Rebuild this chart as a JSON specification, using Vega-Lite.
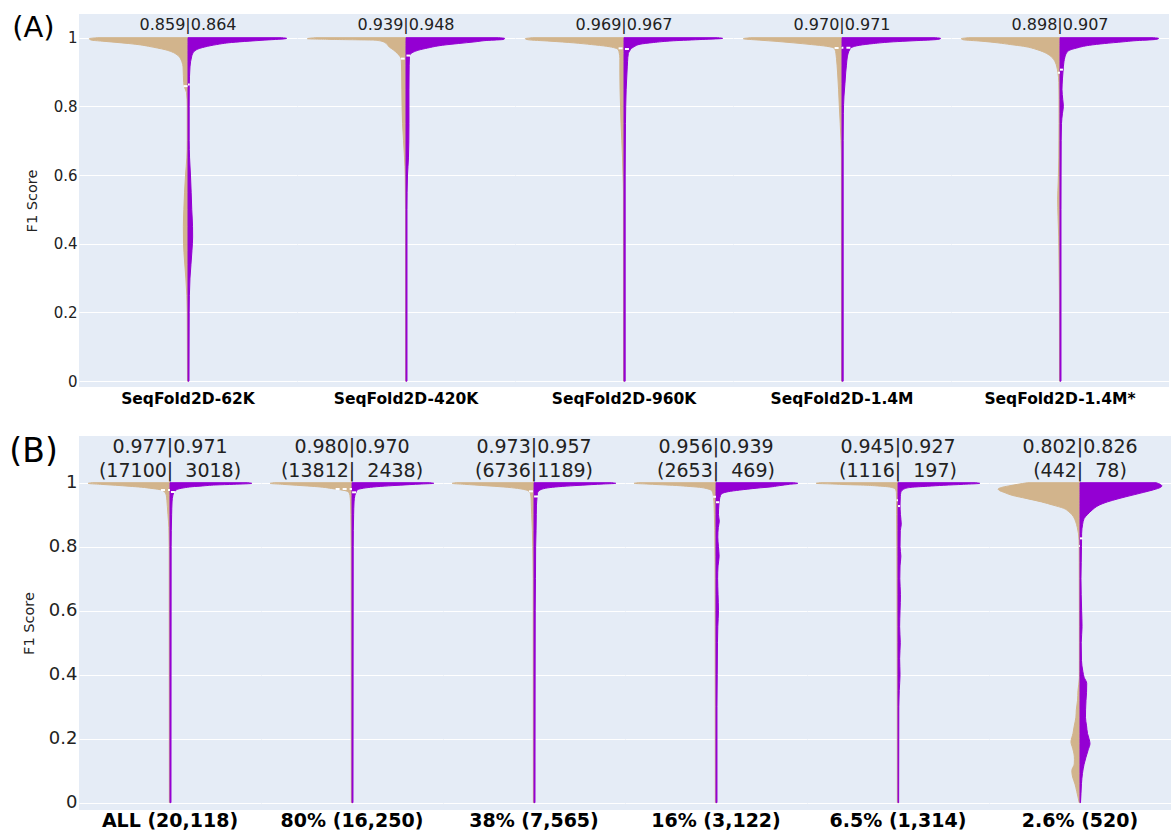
{
"$schema": "https://vega.github.io/schema/vega-lite/v6.json",
"background": "white",
"padding": {"left": 9, "top": 14, "right": 0, "bottom": 0},
"spacing": 28,
"config": {
 "font": "DejaVu Sans",
 "view": {"fill": "#E5ECF6", "stroke": null},
 "axis": {"domain": false, "ticks": false, "gridColor": "white", "gridWidth": 1, "labelColor": "#222", "labelPadding": 2, "titleFontSize": 14.5, "titleFontWeight": "normal", "titleColor": "#222"},
 "header": {"labelFontWeight": "bold", "labelColor": "#000", "labelOrient": "bottom", "titleFontSize": 14.5, "titleFontWeight": "normal", "titleColor": "#222"},
 "facet": {"spacing": 0},
 "text": {"lineBreak": "\n"}
},
"vconcat": [
{
 "title": {"text": "(A)", "anchor": "start", "frame": "bounds", "fontSize": 29, "fontWeight": "normal", "color": "#000", "baseline": "top", "offset": -29, "dx": -12, "dy": 0},
 "bounds": "flush",
 "data": {"values": [
{"g":"SeqFold2D-62K","s":"L","f":1.0,"w":-0.92},{"g":"SeqFold2D-62K","s":"L","f":0.997,"w":-1.0},{"g":"SeqFold2D-62K","s":"L","f":0.993,"w":-0.98},{"g":"SeqFold2D-62K","s":"L","f":0.99,"w":-0.87},{"g":"SeqFold2D-62K","s":"L","f":0.987,"w":-0.75},{"g":"SeqFold2D-62K","s":"L","f":0.983,"w":-0.6},{"g":"SeqFold2D-62K","s":"L","f":0.979,"w":-0.48},{"g":"SeqFold2D-62K","s":"L","f":0.975,"w":-0.4},{"g":"SeqFold2D-62K","s":"L","f":0.97,"w":-0.31},{"g":"SeqFold2D-62K","s":"L","f":0.965,"w":-0.23},{"g":"SeqFold2D-62K","s":"L","f":0.959,"w":-0.166},{"g":"SeqFold2D-62K","s":"L","f":0.95,"w":-0.11},{"g":"SeqFold2D-62K","s":"L","f":0.94,"w":-0.078},{"g":"SeqFold2D-62K","s":"L","f":0.93,"w":-0.062},{"g":"SeqFold2D-62K","s":"L","f":0.915,"w":-0.05},{"g":"SeqFold2D-62K","s":"L","f":0.89,"w":-0.047},{"g":"SeqFold2D-62K","s":"L","f":0.87,"w":-0.044},{"g":"SeqFold2D-62K","s":"L","f":0.855,"w":-0.035},{"g":"SeqFold2D-62K","s":"L","f":0.84,"w":-0.015},{"g":"SeqFold2D-62K","s":"L","f":0.8,"w":-0.008},{"g":"SeqFold2D-62K","s":"L","f":0.7,"w":-0.008},{"g":"SeqFold2D-62K","s":"L","f":0.65,"w":-0.012},{"g":"SeqFold2D-62K","s":"L","f":0.6,"w":-0.025},{"g":"SeqFold2D-62K","s":"L","f":0.55,"w":-0.035},{"g":"SeqFold2D-62K","s":"L","f":0.5,"w":-0.042},{"g":"SeqFold2D-62K","s":"L","f":0.45,"w":-0.047},{"g":"SeqFold2D-62K","s":"L","f":0.4,"w":-0.045},{"g":"SeqFold2D-62K","s":"L","f":0.35,"w":-0.035},{"g":"SeqFold2D-62K","s":"L","f":0.3,"w":-0.022},{"g":"SeqFold2D-62K","s":"L","f":0.25,"w":-0.012},{"g":"SeqFold2D-62K","s":"L","f":0.2,"w":-0.008},{"g":"SeqFold2D-62K","s":"L","f":0.0,"w":-0.005},
{"g":"SeqFold2D-62K","s":"R","f":1.0,"w":0.95},{"g":"SeqFold2D-62K","s":"R","f":0.998,"w":1.0},{"g":"SeqFold2D-62K","s":"R","f":0.993,"w":0.78},{"g":"SeqFold2D-62K","s":"R","f":0.99,"w":0.62},{"g":"SeqFold2D-62K","s":"R","f":0.986,"w":0.44},{"g":"SeqFold2D-62K","s":"R","f":0.98,"w":0.29},{"g":"SeqFold2D-62K","s":"R","f":0.973,"w":0.17},{"g":"SeqFold2D-62K","s":"R","f":0.967,"w":0.1},{"g":"SeqFold2D-62K","s":"R","f":0.962,"w":0.07},{"g":"SeqFold2D-62K","s":"R","f":0.952,"w":0.045},{"g":"SeqFold2D-62K","s":"R","f":0.944,"w":0.036},{"g":"SeqFold2D-62K","s":"R","f":0.93,"w":0.026},{"g":"SeqFold2D-62K","s":"R","f":0.915,"w":0.02},{"g":"SeqFold2D-62K","s":"R","f":0.857,"w":0.013},{"g":"SeqFold2D-62K","s":"R","f":0.8,"w":0.012},{"g":"SeqFold2D-62K","s":"R","f":0.7,"w":0.012},{"g":"SeqFold2D-62K","s":"R","f":0.65,"w":0.016},{"g":"SeqFold2D-62K","s":"R","f":0.6,"w":0.025},{"g":"SeqFold2D-62K","s":"R","f":0.55,"w":0.032},{"g":"SeqFold2D-62K","s":"R","f":0.5,"w":0.038},{"g":"SeqFold2D-62K","s":"R","f":0.45,"w":0.046},{"g":"SeqFold2D-62K","s":"R","f":0.42,"w":0.047},{"g":"SeqFold2D-62K","s":"R","f":0.38,"w":0.04},{"g":"SeqFold2D-62K","s":"R","f":0.34,"w":0.03},{"g":"SeqFold2D-62K","s":"R","f":0.3,"w":0.02},{"g":"SeqFold2D-62K","s":"R","f":0.25,"w":0.014},{"g":"SeqFold2D-62K","s":"R","f":0.2,"w":0.012},{"g":"SeqFold2D-62K","s":"R","f":0.0,"w":0.01},
{"g":"SeqFold2D-420K","s":"L","f":1.0,"w":-0.92},{"g":"SeqFold2D-420K","s":"L","f":0.997,"w":-1.0},{"g":"SeqFold2D-420K","s":"L","f":0.995,"w":-0.75},{"g":"SeqFold2D-420K","s":"L","f":0.993,"w":-0.33},{"g":"SeqFold2D-420K","s":"L","f":0.99,"w":-0.25},{"g":"SeqFold2D-420K","s":"L","f":0.985,"w":-0.21},{"g":"SeqFold2D-420K","s":"L","f":0.98,"w":-0.19},{"g":"SeqFold2D-420K","s":"L","f":0.973,"w":-0.17},{"g":"SeqFold2D-420K","s":"L","f":0.965,"w":-0.13},{"g":"SeqFold2D-420K","s":"L","f":0.954,"w":-0.087},{"g":"SeqFold2D-420K","s":"L","f":0.945,"w":-0.06},{"g":"SeqFold2D-420K","s":"L","f":0.935,"w":-0.048},{"g":"SeqFold2D-420K","s":"L","f":0.9,"w":-0.044},{"g":"SeqFold2D-420K","s":"L","f":0.85,"w":-0.042},{"g":"SeqFold2D-420K","s":"L","f":0.8,"w":-0.04},{"g":"SeqFold2D-420K","s":"L","f":0.75,"w":-0.035},{"g":"SeqFold2D-420K","s":"L","f":0.7,"w":-0.025},{"g":"SeqFold2D-420K","s":"L","f":0.65,"w":-0.015},{"g":"SeqFold2D-420K","s":"L","f":0.6,"w":-0.008},{"g":"SeqFold2D-420K","s":"L","f":0.5,"w":-0.005},{"g":"SeqFold2D-420K","s":"L","f":0.0,"w":-0.005},
{"g":"SeqFold2D-420K","s":"R","f":1.0,"w":0.94},{"g":"SeqFold2D-420K","s":"R","f":0.998,"w":1.0},{"g":"SeqFold2D-420K","s":"R","f":0.995,"w":0.99},{"g":"SeqFold2D-420K","s":"R","f":0.992,"w":0.82},{"g":"SeqFold2D-420K","s":"R","f":0.988,"w":0.7},{"g":"SeqFold2D-420K","s":"R","f":0.983,"w":0.53},{"g":"SeqFold2D-420K","s":"R","f":0.978,"w":0.37},{"g":"SeqFold2D-420K","s":"R","f":0.97,"w":0.22},{"g":"SeqFold2D-420K","s":"R","f":0.964,"w":0.13},{"g":"SeqFold2D-420K","s":"R","f":0.958,"w":0.075},{"g":"SeqFold2D-420K","s":"R","f":0.954,"w":0.05},{"g":"SeqFold2D-420K","s":"R","f":0.945,"w":0.035},{"g":"SeqFold2D-420K","s":"R","f":0.92,"w":0.032},{"g":"SeqFold2D-420K","s":"R","f":0.85,"w":0.03},{"g":"SeqFold2D-420K","s":"R","f":0.75,"w":0.03},{"g":"SeqFold2D-420K","s":"R","f":0.65,"w":0.025},{"g":"SeqFold2D-420K","s":"R","f":0.6,"w":0.015},{"g":"SeqFold2D-420K","s":"R","f":0.5,"w":0.01},{"g":"SeqFold2D-420K","s":"R","f":0.0,"w":0.01},
{"g":"SeqFold2D-960K","s":"L","f":1.0,"w":-0.93},{"g":"SeqFold2D-960K","s":"L","f":0.997,"w":-1.0},{"g":"SeqFold2D-960K","s":"L","f":0.994,"w":-0.97},{"g":"SeqFold2D-960K","s":"L","f":0.99,"w":-0.75},{"g":"SeqFold2D-960K","s":"L","f":0.985,"w":-0.51},{"g":"SeqFold2D-960K","s":"L","f":0.98,"w":-0.33},{"g":"SeqFold2D-960K","s":"L","f":0.975,"w":-0.176},{"g":"SeqFold2D-960K","s":"L","f":0.97,"w":-0.09},{"g":"SeqFold2D-960K","s":"L","f":0.965,"w":-0.058},{"g":"SeqFold2D-960K","s":"L","f":0.955,"w":-0.048},{"g":"SeqFold2D-960K","s":"L","f":0.94,"w":-0.042},{"g":"SeqFold2D-960K","s":"L","f":0.9,"w":-0.042},{"g":"SeqFold2D-960K","s":"L","f":0.85,"w":-0.04},{"g":"SeqFold2D-960K","s":"L","f":0.8,"w":-0.035},{"g":"SeqFold2D-960K","s":"L","f":0.75,"w":-0.03},{"g":"SeqFold2D-960K","s":"L","f":0.7,"w":-0.022},{"g":"SeqFold2D-960K","s":"L","f":0.65,"w":-0.015},{"g":"SeqFold2D-960K","s":"L","f":0.6,"w":-0.01},{"g":"SeqFold2D-960K","s":"L","f":0.55,"w":-0.006},{"g":"SeqFold2D-960K","s":"L","f":0.0,"w":-0.005},
{"g":"SeqFold2D-960K","s":"R","f":1.0,"w":0.95},{"g":"SeqFold2D-960K","s":"R","f":0.998,"w":1.0},{"g":"SeqFold2D-960K","s":"R","f":0.995,"w":0.8},{"g":"SeqFold2D-960K","s":"R","f":0.991,"w":0.5},{"g":"SeqFold2D-960K","s":"R","f":0.986,"w":0.3},{"g":"SeqFold2D-960K","s":"R","f":0.981,"w":0.163},{"g":"SeqFold2D-960K","s":"R","f":0.975,"w":0.11},{"g":"SeqFold2D-960K","s":"R","f":0.969,"w":0.077},{"g":"SeqFold2D-960K","s":"R","f":0.96,"w":0.055},{"g":"SeqFold2D-960K","s":"R","f":0.954,"w":0.044},{"g":"SeqFold2D-960K","s":"R","f":0.93,"w":0.036},{"g":"SeqFold2D-960K","s":"R","f":0.915,"w":0.033},{"g":"SeqFold2D-960K","s":"R","f":0.85,"w":0.022},{"g":"SeqFold2D-960K","s":"R","f":0.75,"w":0.015},{"g":"SeqFold2D-960K","s":"R","f":0.6,"w":0.012},{"g":"SeqFold2D-960K","s":"R","f":0.0,"w":0.012},
{"g":"SeqFold2D-1.4M","s":"L","f":1.0,"w":-0.93},{"g":"SeqFold2D-1.4M","s":"L","f":0.997,"w":-1.0},{"g":"SeqFold2D-1.4M","s":"L","f":0.993,"w":-0.84},{"g":"SeqFold2D-1.4M","s":"L","f":0.989,"w":-0.65},{"g":"SeqFold2D-1.4M","s":"L","f":0.985,"w":-0.49},{"g":"SeqFold2D-1.4M","s":"L","f":0.98,"w":-0.31},{"g":"SeqFold2D-1.4M","s":"L","f":0.975,"w":-0.155},{"g":"SeqFold2D-1.4M","s":"L","f":0.97,"w":-0.085},{"g":"SeqFold2D-1.4M","s":"L","f":0.965,"w":-0.07},{"g":"SeqFold2D-1.4M","s":"L","f":0.955,"w":-0.062},{"g":"SeqFold2D-1.4M","s":"L","f":0.94,"w":-0.056},{"g":"SeqFold2D-1.4M","s":"L","f":0.92,"w":-0.05},{"g":"SeqFold2D-1.4M","s":"L","f":0.9,"w":-0.045},{"g":"SeqFold2D-1.4M","s":"L","f":0.85,"w":-0.035},{"g":"SeqFold2D-1.4M","s":"L","f":0.8,"w":-0.027},{"g":"SeqFold2D-1.4M","s":"L","f":0.75,"w":-0.018},{"g":"SeqFold2D-1.4M","s":"L","f":0.7,"w":-0.01},{"g":"SeqFold2D-1.4M","s":"L","f":0.65,"w":-0.006},{"g":"SeqFold2D-1.4M","s":"L","f":0.0,"w":-0.005},
{"g":"SeqFold2D-1.4M","s":"R","f":1.0,"w":0.95},{"g":"SeqFold2D-1.4M","s":"R","f":0.998,"w":1.0},{"g":"SeqFold2D-1.4M","s":"R","f":0.995,"w":0.97},{"g":"SeqFold2D-1.4M","s":"R","f":0.991,"w":0.72},{"g":"SeqFold2D-1.4M","s":"R","f":0.988,"w":0.52},{"g":"SeqFold2D-1.4M","s":"R","f":0.983,"w":0.32},{"g":"SeqFold2D-1.4M","s":"R","f":0.978,"w":0.18},{"g":"SeqFold2D-1.4M","s":"R","f":0.972,"w":0.1},{"g":"SeqFold2D-1.4M","s":"R","f":0.966,"w":0.08},{"g":"SeqFold2D-1.4M","s":"R","f":0.955,"w":0.063},{"g":"SeqFold2D-1.4M","s":"R","f":0.944,"w":0.054},{"g":"SeqFold2D-1.4M","s":"R","f":0.92,"w":0.045},{"g":"SeqFold2D-1.4M","s":"R","f":0.9,"w":0.038},{"g":"SeqFold2D-1.4M","s":"R","f":0.867,"w":0.03},{"g":"SeqFold2D-1.4M","s":"R","f":0.83,"w":0.02},{"g":"SeqFold2D-1.4M","s":"R","f":0.78,"w":0.014},{"g":"SeqFold2D-1.4M","s":"R","f":0.7,"w":0.012},{"g":"SeqFold2D-1.4M","s":"R","f":0.0,"w":0.012},
{"g":"SeqFold2D-1.4M*","s":"L","f":1.0,"w":-0.93},{"g":"SeqFold2D-1.4M*","s":"L","f":0.997,"w":-1.0},{"g":"SeqFold2D-1.4M*","s":"L","f":0.994,"w":-0.98},{"g":"SeqFold2D-1.4M*","s":"L","f":0.99,"w":-0.8},{"g":"SeqFold2D-1.4M*","s":"L","f":0.985,"w":-0.63},{"g":"SeqFold2D-1.4M*","s":"L","f":0.98,"w":-0.5},{"g":"SeqFold2D-1.4M*","s":"L","f":0.975,"w":-0.37},{"g":"SeqFold2D-1.4M*","s":"L","f":0.965,"w":-0.23},{"g":"SeqFold2D-1.4M*","s":"L","f":0.954,"w":-0.135},{"g":"SeqFold2D-1.4M*","s":"L","f":0.945,"w":-0.09},{"g":"SeqFold2D-1.4M*","s":"L","f":0.93,"w":-0.05},{"g":"SeqFold2D-1.4M*","s":"L","f":0.915,"w":-0.032},{"g":"SeqFold2D-1.4M*","s":"L","f":0.9,"w":-0.022},{"g":"SeqFold2D-1.4M*","s":"L","f":0.87,"w":-0.012},{"g":"SeqFold2D-1.4M*","s":"L","f":0.83,"w":-0.01},{"g":"SeqFold2D-1.4M*","s":"L","f":0.75,"w":-0.01},{"g":"SeqFold2D-1.4M*","s":"L","f":0.65,"w":-0.012},{"g":"SeqFold2D-1.4M*","s":"L","f":0.58,"w":-0.018},{"g":"SeqFold2D-1.4M*","s":"L","f":0.53,"w":-0.024},{"g":"SeqFold2D-1.4M*","s":"L","f":0.48,"w":-0.02},{"g":"SeqFold2D-1.4M*","s":"L","f":0.42,"w":-0.013},{"g":"SeqFold2D-1.4M*","s":"L","f":0.35,"w":-0.01},{"g":"SeqFold2D-1.4M*","s":"L","f":0.25,"w":-0.006},{"g":"SeqFold2D-1.4M*","s":"L","f":0.0,"w":-0.005},
{"g":"SeqFold2D-1.4M*","s":"R","f":1.0,"w":0.95},{"g":"SeqFold2D-1.4M*","s":"R","f":0.998,"w":1.0},{"g":"SeqFold2D-1.4M*","s":"R","f":0.995,"w":0.97},{"g":"SeqFold2D-1.4M*","s":"R","f":0.991,"w":0.75},{"g":"SeqFold2D-1.4M*","s":"R","f":0.988,"w":0.64},{"g":"SeqFold2D-1.4M*","s":"R","f":0.983,"w":0.45},{"g":"SeqFold2D-1.4M*","s":"R","f":0.978,"w":0.3},{"g":"SeqFold2D-1.4M*","s":"R","f":0.97,"w":0.17},{"g":"SeqFold2D-1.4M*","s":"R","f":0.964,"w":0.1},{"g":"SeqFold2D-1.4M*","s":"R","f":0.955,"w":0.065},{"g":"SeqFold2D-1.4M*","s":"R","f":0.944,"w":0.05},{"g":"SeqFold2D-1.4M*","s":"R","f":0.93,"w":0.04},{"g":"SeqFold2D-1.4M*","s":"R","f":0.915,"w":0.034},{"g":"SeqFold2D-1.4M*","s":"R","f":0.88,"w":0.025},{"g":"SeqFold2D-1.4M*","s":"R","f":0.85,"w":0.02},{"g":"SeqFold2D-1.4M*","s":"R","f":0.82,"w":0.028},{"g":"SeqFold2D-1.4M*","s":"R","f":0.8,"w":0.034},{"g":"SeqFold2D-1.4M*","s":"R","f":0.78,"w":0.025},{"g":"SeqFold2D-1.4M*","s":"R","f":0.75,"w":0.015},{"g":"SeqFold2D-1.4M*","s":"R","f":0.7,"w":0.012},{"g":"SeqFold2D-1.4M*","s":"R","f":0.5,"w":0.01},{"g":"SeqFold2D-1.4M*","s":"R","f":0.0,"w":0.01},
{"g":"SeqFold2D-62K","s":"L","f":0.859,"w":-0.045,"m":1},{"g":"SeqFold2D-62K","s":"R","f":0.864,"w":0.018,"m":1},
{"g":"SeqFold2D-420K","s":"L","f":0.939,"w":-0.054,"m":1},{"g":"SeqFold2D-420K","s":"R","f":0.948,"w":0.045,"m":1},
{"g":"SeqFold2D-960K","s":"L","f":0.969,"w":-0.055,"m":1},{"g":"SeqFold2D-960K","s":"R","f":0.967,"w":0.05,"m":1},
{"g":"SeqFold2D-1.4M","s":"L","f":0.970,"w":-0.075,"m":1},{"g":"SeqFold2D-1.4M","s":"R","f":0.971,"w":0.085,"m":1},
{"g":"SeqFold2D-1.4M*","s":"L","f":0.898,"w":-0.023,"m":1},{"g":"SeqFold2D-1.4M*","s":"R","f":0.907,"w":0.03,"m":1},
{"g":"SeqFold2D-62K","t":"0.859|0.864"},{"g":"SeqFold2D-420K","t":"0.939|0.948"},{"g":"SeqFold2D-960K","t":"0.969|0.967"},{"g":"SeqFold2D-1.4M","t":"0.970|0.971"},{"g":"SeqFold2D-1.4M*","t":"0.898|0.907"}
 ]},
 "facet": {"column": {"field": "g", "type": "nominal", "sort": ["SeqFold2D-62K","SeqFold2D-420K","SeqFold2D-960K","SeqFold2D-1.4M","SeqFold2D-1.4M*"], "header": {"title": null, "labelOrient": "bottom", "labelFontSize": 15.5, "labelPadding": 5}}},
 "spacing": 0,
 "spec": {
  "width": 218, "height": 373,
  "layer": [
   {"transform": [{"filter": "!datum.m && !isValid(datum.t)"}],
    "mark": {"type": "area", "orient": "horizontal", "interpolate": "monotone", "strokeWidth": 1, "strokeJoin": "round"},
    "encoding": {
     "y": {"field": "f", "type": "quantitative", "title": "F1 Score", "scale": {"domain": [-0.017, 1.069], "nice": false, "zero": false}, "axis": {"values": [0, 0.2, 0.4, 0.6, 0.8, 1], "format": "~g", "grid": true, "labelFontSize": 15, "titleFontSize": 14.5, "titleFontWeight": "normal", "titlePadding": 14}},
     "x": {"field": "w", "type": "quantitative", "scale": {"domain": [-1.105, 1.105], "nice": false, "zero": false}, "axis": null},
     "x2": {"datum": 0},
     "color": {"field": "s", "type": "nominal", "scale": {"domain": ["L", "R"], "range": ["#D2B48C", "#9400D3"]}, "legend": null},
     "stroke": {"field": "s", "type": "nominal", "scale": {"domain": ["L", "R"], "range": ["#D2B48C", "#9400D3"]}, "legend": null}
    }},
   {"transform": [{"filter": "datum.m == 1"}],
    "mark": {"type": "rule", "color": "white", "strokeWidth": 2, "strokeDash": [4, 3]},
    "encoding": {
     "y": {"field": "f", "type": "quantitative", "title": "F1 Score"},
     "x": {"field": "w", "type": "quantitative", "axis": null},
     "x2": {"datum": 0}
    }},
   {"transform": [{"filter": "isValid(datum.t)"}],
    "mark": {"type": "text", "fontSize": 16, "color": "#222", "baseline": "middle", "align": "center"},
    "encoding": {
     "y": {"datum": 1.037, "type": "quantitative", "title": "F1 Score"},
     "x": {"datum": 0, "type": "quantitative", "axis": null},
     "text": {"field": "t"}
    }}
  ]
 }
},
{
 "title": {"text": "(B)", "anchor": "start", "frame": "bounds", "fontSize": 33, "fontWeight": "normal", "color": "#000", "baseline": "top", "offset": -33, "dx": -12, "dy": 0},
 "bounds": "flush",
 "data": {"values": [
{"g":"ALL (20,118)","s":"L","f":1.0,"w":-0.95},{"g":"ALL (20,118)","s":"L","f":0.998,"w":-1.0},{"g":"ALL (20,118)","s":"L","f":0.995,"w":-0.85},{"g":"ALL (20,118)","s":"L","f":0.992,"w":-0.665},{"g":"ALL (20,118)","s":"L","f":0.989,"w":-0.5},{"g":"ALL (20,118)","s":"L","f":0.986,"w":-0.35},{"g":"ALL (20,118)","s":"L","f":0.982,"w":-0.22},{"g":"ALL (20,118)","s":"L","f":0.979,"w":-0.135},{"g":"ALL (20,118)","s":"L","f":0.975,"w":-0.085},{"g":"ALL (20,118)","s":"L","f":0.97,"w":-0.062},{"g":"ALL (20,118)","s":"L","f":0.96,"w":-0.045},{"g":"ALL (20,118)","s":"L","f":0.945,"w":-0.038},{"g":"ALL (20,118)","s":"L","f":0.925,"w":-0.032},{"g":"ALL (20,118)","s":"L","f":0.9,"w":-0.025},{"g":"ALL (20,118)","s":"L","f":0.86,"w":-0.014},{"g":"ALL (20,118)","s":"L","f":0.8,"w":-0.01},{"g":"ALL (20,118)","s":"L","f":0.0,"w":-0.008},
{"g":"ALL (20,118)","s":"R","f":1.0,"w":0.95},{"g":"ALL (20,118)","s":"R","f":0.998,"w":1.0},{"g":"ALL (20,118)","s":"R","f":0.995,"w":0.78},{"g":"ALL (20,118)","s":"R","f":0.993,"w":0.56},{"g":"ALL (20,118)","s":"R","f":0.99,"w":0.4},{"g":"ALL (20,118)","s":"R","f":0.9875,"w":0.27},{"g":"ALL (20,118)","s":"R","f":0.984,"w":0.17},{"g":"ALL (20,118)","s":"R","f":0.981,"w":0.11},{"g":"ALL (20,118)","s":"R","f":0.976,"w":0.07},{"g":"ALL (20,118)","s":"R","f":0.97,"w":0.05},{"g":"ALL (20,118)","s":"R","f":0.96,"w":0.035},{"g":"ALL (20,118)","s":"R","f":0.94,"w":0.025},{"g":"ALL (20,118)","s":"R","f":0.9,"w":0.02},{"g":"ALL (20,118)","s":"R","f":0.8,"w":0.014},{"g":"ALL (20,118)","s":"R","f":0.0,"w":0.012},
{"g":"80% (16,250)","s":"L","f":1.0,"w":-0.95},{"g":"80% (16,250)","s":"L","f":0.998,"w":-1.0},{"g":"80% (16,250)","s":"L","f":0.995,"w":-0.85},{"g":"80% (16,250)","s":"L","f":0.992,"w":-0.68},{"g":"80% (16,250)","s":"L","f":0.989,"w":-0.5},{"g":"80% (16,250)","s":"L","f":0.986,"w":-0.36},{"g":"80% (16,250)","s":"L","f":0.982,"w":-0.25},{"g":"80% (16,250)","s":"L","f":0.979,"w":-0.17},{"g":"80% (16,250)","s":"L","f":0.975,"w":-0.08},{"g":"80% (16,250)","s":"L","f":0.97,"w":-0.04},{"g":"80% (16,250)","s":"L","f":0.96,"w":-0.025},{"g":"80% (16,250)","s":"L","f":0.94,"w":-0.018},{"g":"80% (16,250)","s":"L","f":0.9,"w":-0.014},{"g":"80% (16,250)","s":"L","f":0.8,"w":-0.01},{"g":"80% (16,250)","s":"L","f":0.0,"w":-0.008},
{"g":"80% (16,250)","s":"R","f":1.0,"w":0.95},{"g":"80% (16,250)","s":"R","f":0.998,"w":1.0},{"g":"80% (16,250)","s":"R","f":0.996,"w":0.85},{"g":"80% (16,250)","s":"R","f":0.994,"w":0.7},{"g":"80% (16,250)","s":"R","f":0.991,"w":0.5},{"g":"80% (16,250)","s":"R","f":0.9875,"w":0.3},{"g":"80% (16,250)","s":"R","f":0.984,"w":0.17},{"g":"80% (16,250)","s":"R","f":0.98,"w":0.09},{"g":"80% (16,250)","s":"R","f":0.976,"w":0.06},{"g":"80% (16,250)","s":"R","f":0.97,"w":0.05},{"g":"80% (16,250)","s":"R","f":0.96,"w":0.035},{"g":"80% (16,250)","s":"R","f":0.94,"w":0.025},{"g":"80% (16,250)","s":"R","f":0.9,"w":0.02},{"g":"80% (16,250)","s":"R","f":0.8,"w":0.015},{"g":"80% (16,250)","s":"R","f":0.0,"w":0.012},
{"g":"38% (7,565)","s":"L","f":1.0,"w":-0.95},{"g":"38% (7,565)","s":"L","f":0.998,"w":-1.0},{"g":"38% (7,565)","s":"L","f":0.995,"w":-0.85},{"g":"38% (7,565)","s":"L","f":0.993,"w":-0.73},{"g":"38% (7,565)","s":"L","f":0.99,"w":-0.55},{"g":"38% (7,565)","s":"L","f":0.9856,"w":-0.32},{"g":"38% (7,565)","s":"L","f":0.981,"w":-0.17},{"g":"38% (7,565)","s":"L","f":0.977,"w":-0.094},{"g":"38% (7,565)","s":"L","f":0.972,"w":-0.06},{"g":"38% (7,565)","s":"L","f":0.967,"w":-0.045},{"g":"38% (7,565)","s":"L","f":0.95,"w":-0.035},{"g":"38% (7,565)","s":"L","f":0.925,"w":-0.032},{"g":"38% (7,565)","s":"L","f":0.9,"w":-0.028},{"g":"38% (7,565)","s":"L","f":0.85,"w":-0.02},{"g":"38% (7,565)","s":"L","f":0.8,"w":-0.015},{"g":"38% (7,565)","s":"L","f":0.7,"w":-0.01},{"g":"38% (7,565)","s":"L","f":0.0,"w":-0.008},
{"g":"38% (7,565)","s":"R","f":1.0,"w":0.95},{"g":"38% (7,565)","s":"R","f":0.998,"w":1.0},{"g":"38% (7,565)","s":"R","f":0.996,"w":0.85},{"g":"38% (7,565)","s":"R","f":0.994,"w":0.7},{"g":"38% (7,565)","s":"R","f":0.991,"w":0.5},{"g":"38% (7,565)","s":"R","f":0.9875,"w":0.3},{"g":"38% (7,565)","s":"R","f":0.984,"w":0.17},{"g":"38% (7,565)","s":"R","f":0.979,"w":0.09},{"g":"38% (7,565)","s":"R","f":0.973,"w":0.055},{"g":"38% (7,565)","s":"R","f":0.967,"w":0.042},{"g":"38% (7,565)","s":"R","f":0.955,"w":0.038},{"g":"38% (7,565)","s":"R","f":0.93,"w":0.03},{"g":"38% (7,565)","s":"R","f":0.9,"w":0.028},{"g":"38% (7,565)","s":"R","f":0.85,"w":0.025},{"g":"38% (7,565)","s":"R","f":0.8,"w":0.02},{"g":"38% (7,565)","s":"R","f":0.7,"w":0.018},{"g":"38% (7,565)","s":"R","f":0.6,"w":0.015},{"g":"38% (7,565)","s":"R","f":0.0,"w":0.012},
{"g":"16% (3,122)","s":"L","f":1.0,"w":-0.95},{"g":"16% (3,122)","s":"L","f":0.998,"w":-1.0},{"g":"16% (3,122)","s":"L","f":0.996,"w":-0.85},{"g":"16% (3,122)","s":"L","f":0.994,"w":-0.7},{"g":"16% (3,122)","s":"L","f":0.992,"w":-0.53},{"g":"16% (3,122)","s":"L","f":0.989,"w":-0.36},{"g":"16% (3,122)","s":"L","f":0.9856,"w":-0.2},{"g":"16% (3,122)","s":"L","f":0.982,"w":-0.12},{"g":"16% (3,122)","s":"L","f":0.977,"w":-0.062},{"g":"16% (3,122)","s":"L","f":0.97,"w":-0.042},{"g":"16% (3,122)","s":"L","f":0.96,"w":-0.033},{"g":"16% (3,122)","s":"L","f":0.94,"w":-0.025},{"g":"16% (3,122)","s":"L","f":0.9,"w":-0.02},{"g":"16% (3,122)","s":"L","f":0.85,"w":-0.015},{"g":"16% (3,122)","s":"L","f":0.75,"w":-0.012},{"g":"16% (3,122)","s":"L","f":0.0,"w":-0.008},
{"g":"16% (3,122)","s":"R","f":1.0,"w":0.95},{"g":"16% (3,122)","s":"R","f":0.998,"w":1.0},{"g":"16% (3,122)","s":"R","f":0.995,"w":0.9},{"g":"16% (3,122)","s":"R","f":0.991,"w":0.78},{"g":"16% (3,122)","s":"R","f":0.9875,"w":0.69},{"g":"16% (3,122)","s":"R","f":0.983,"w":0.5},{"g":"16% (3,122)","s":"R","f":0.977,"w":0.29},{"g":"16% (3,122)","s":"R","f":0.972,"w":0.15},{"g":"16% (3,122)","s":"R","f":0.967,"w":0.082},{"g":"16% (3,122)","s":"R","f":0.96,"w":0.055},{"g":"16% (3,122)","s":"R","f":0.946,"w":0.042},{"g":"16% (3,122)","s":"R","f":0.93,"w":0.035},{"g":"16% (3,122)","s":"R","f":0.9,"w":0.03},{"g":"16% (3,122)","s":"R","f":0.88,"w":0.04},{"g":"16% (3,122)","s":"R","f":0.86,"w":0.028},{"g":"16% (3,122)","s":"R","f":0.83,"w":0.022},{"g":"16% (3,122)","s":"R","f":0.8,"w":0.03},{"g":"16% (3,122)","s":"R","f":0.77,"w":0.038},{"g":"16% (3,122)","s":"R","f":0.74,"w":0.025},{"g":"16% (3,122)","s":"R","f":0.7,"w":0.02},{"g":"16% (3,122)","s":"R","f":0.65,"w":0.025},{"g":"16% (3,122)","s":"R","f":0.6,"w":0.03},{"g":"16% (3,122)","s":"R","f":0.55,"w":0.022},{"g":"16% (3,122)","s":"R","f":0.5,"w":0.018},{"g":"16% (3,122)","s":"R","f":0.4,"w":0.015},{"g":"16% (3,122)","s":"R","f":0.3,"w":0.012},{"g":"16% (3,122)","s":"R","f":0.0,"w":0.012},
{"g":"6.5% (1,314)","s":"L","f":1.0,"w":-0.95},{"g":"6.5% (1,314)","s":"L","f":0.998,"w":-1.0},{"g":"6.5% (1,314)","s":"L","f":0.996,"w":-0.8},{"g":"6.5% (1,314)","s":"L","f":0.994,"w":-0.62},{"g":"6.5% (1,314)","s":"L","f":0.9928,"w":-0.46},{"g":"6.5% (1,314)","s":"L","f":0.99,"w":-0.25},{"g":"6.5% (1,314)","s":"L","f":0.9875,"w":-0.13},{"g":"6.5% (1,314)","s":"L","f":0.984,"w":-0.06},{"g":"6.5% (1,314)","s":"L","f":0.979,"w":-0.03},{"g":"6.5% (1,314)","s":"L","f":0.97,"w":-0.02},{"g":"6.5% (1,314)","s":"L","f":0.95,"w":-0.018},{"g":"6.5% (1,314)","s":"L","f":0.9,"w":-0.018},{"g":"6.5% (1,314)","s":"L","f":0.8,"w":-0.014},{"g":"6.5% (1,314)","s":"L","f":0.0,"w":-0.008},
{"g":"6.5% (1,314)","s":"R","f":1.0,"w":0.95},{"g":"6.5% (1,314)","s":"R","f":0.998,"w":1.0},{"g":"6.5% (1,314)","s":"R","f":0.995,"w":0.8},{"g":"6.5% (1,314)","s":"R","f":0.992,"w":0.56},{"g":"6.5% (1,314)","s":"R","f":0.989,"w":0.36},{"g":"6.5% (1,314)","s":"R","f":0.9856,"w":0.16},{"g":"6.5% (1,314)","s":"R","f":0.981,"w":0.08},{"g":"6.5% (1,314)","s":"R","f":0.977,"w":0.054},{"g":"6.5% (1,314)","s":"R","f":0.97,"w":0.035},{"g":"6.5% (1,314)","s":"R","f":0.956,"w":0.028},{"g":"6.5% (1,314)","s":"R","f":0.93,"w":0.025},{"g":"6.5% (1,314)","s":"R","f":0.9,"w":0.03},{"g":"6.5% (1,314)","s":"R","f":0.87,"w":0.04},{"g":"6.5% (1,314)","s":"R","f":0.85,"w":0.028},{"g":"6.5% (1,314)","s":"R","f":0.8,"w":0.025},{"g":"6.5% (1,314)","s":"R","f":0.77,"w":0.035},{"g":"6.5% (1,314)","s":"R","f":0.74,"w":0.025},{"g":"6.5% (1,314)","s":"R","f":0.7,"w":0.022},{"g":"6.5% (1,314)","s":"R","f":0.65,"w":0.03},{"g":"6.5% (1,314)","s":"R","f":0.6,"w":0.025},{"g":"6.5% (1,314)","s":"R","f":0.55,"w":0.02},{"g":"6.5% (1,314)","s":"R","f":0.5,"w":0.028},{"g":"6.5% (1,314)","s":"R","f":0.45,"w":0.02},{"g":"6.5% (1,314)","s":"R","f":0.4,"w":0.025},{"g":"6.5% (1,314)","s":"R","f":0.35,"w":0.015},{"g":"6.5% (1,314)","s":"R","f":0.3,"w":0.01},{"g":"6.5% (1,314)","s":"R","f":0.0,"w":0.008},
{"g":"2.6% (520)","s":"L","f":1.0,"w":-0.64},{"g":"2.6% (520)","s":"L","f":0.995,"w":-0.76},{"g":"2.6% (520)","s":"L","f":0.99,"w":-0.87},{"g":"2.6% (520)","s":"L","f":0.985,"w":-0.96},{"g":"2.6% (520)","s":"L","f":0.98,"w":-1.0},{"g":"2.6% (520)","s":"L","f":0.975,"w":-0.98},{"g":"2.6% (520)","s":"L","f":0.97,"w":-0.93},{"g":"2.6% (520)","s":"L","f":0.96,"w":-0.82},{"g":"2.6% (520)","s":"L","f":0.951,"w":-0.66},{"g":"2.6% (520)","s":"L","f":0.94,"w":-0.47},{"g":"2.6% (520)","s":"L","f":0.93,"w":-0.33},{"g":"2.6% (520)","s":"L","f":0.92,"w":-0.2},{"g":"2.6% (520)","s":"L","f":0.91,"w":-0.14},{"g":"2.6% (520)","s":"L","f":0.9,"w":-0.098},{"g":"2.6% (520)","s":"L","f":0.88,"w":-0.055},{"g":"2.6% (520)","s":"L","f":0.86,"w":-0.033},{"g":"2.6% (520)","s":"L","f":0.84,"w":-0.018},{"g":"2.6% (520)","s":"L","f":0.82,"w":-0.012},{"g":"2.6% (520)","s":"L","f":0.8,"w":-0.01},{"g":"2.6% (520)","s":"L","f":0.6,"w":-0.008},{"g":"2.6% (520)","s":"L","f":0.39,"w":-0.008},{"g":"2.6% (520)","s":"L","f":0.35,"w":-0.025},{"g":"2.6% (520)","s":"L","f":0.32,"w":-0.03},{"g":"2.6% (520)","s":"L","f":0.29,"w":-0.045},{"g":"2.6% (520)","s":"L","f":0.267,"w":-0.05},{"g":"2.6% (520)","s":"L","f":0.24,"w":-0.07},{"g":"2.6% (520)","s":"L","f":0.216,"w":-0.086},{"g":"2.6% (520)","s":"L","f":0.19,"w":-0.11},{"g":"2.6% (520)","s":"L","f":0.17,"w":-0.09},{"g":"2.6% (520)","s":"L","f":0.152,"w":-0.073},{"g":"2.6% (520)","s":"L","f":0.135,"w":-0.068},{"g":"2.6% (520)","s":"L","f":0.121,"w":-0.07},{"g":"2.6% (520)","s":"L","f":0.1,"w":-0.1},{"g":"2.6% (520)","s":"L","f":0.08,"w":-0.09},{"g":"2.6% (520)","s":"L","f":0.058,"w":-0.061},{"g":"2.6% (520)","s":"L","f":0.035,"w":-0.04},{"g":"2.6% (520)","s":"L","f":0.018,"w":-0.025},{"g":"2.6% (520)","s":"L","f":0.0,"w":-0.01},
{"g":"2.6% (520)","s":"R","f":1.0,"w":0.93},{"g":"2.6% (520)","s":"R","f":0.995,"w":0.98},{"g":"2.6% (520)","s":"R","f":0.99,"w":1.0},{"g":"2.6% (520)","s":"R","f":0.985,"w":0.98},{"g":"2.6% (520)","s":"R","f":0.978,"w":0.9},{"g":"2.6% (520)","s":"R","f":0.97,"w":0.78},{"g":"2.6% (520)","s":"R","f":0.963,"w":0.67},{"g":"2.6% (520)","s":"R","f":0.956,"w":0.56},{"g":"2.6% (520)","s":"R","f":0.945,"w":0.4},{"g":"2.6% (520)","s":"R","f":0.935,"w":0.28},{"g":"2.6% (520)","s":"R","f":0.925,"w":0.2},{"g":"2.6% (520)","s":"R","f":0.915,"w":0.15},{"g":"2.6% (520)","s":"R","f":0.9,"w":0.09},{"g":"2.6% (520)","s":"R","f":0.888,"w":0.05},{"g":"2.6% (520)","s":"R","f":0.87,"w":0.032},{"g":"2.6% (520)","s":"R","f":0.842,"w":0.02},{"g":"2.6% (520)","s":"R","f":0.8,"w":0.018},{"g":"2.6% (520)","s":"R","f":0.75,"w":0.015},{"g":"2.6% (520)","s":"R","f":0.7,"w":0.012},{"g":"2.6% (520)","s":"R","f":0.6,"w":0.02},{"g":"2.6% (520)","s":"R","f":0.55,"w":0.025},{"g":"2.6% (520)","s":"R","f":0.5,"w":0.015},{"g":"2.6% (520)","s":"R","f":0.445,"w":0.018},{"g":"2.6% (520)","s":"R","f":0.41,"w":0.035},{"g":"2.6% (520)","s":"R","f":0.392,"w":0.05},{"g":"2.6% (520)","s":"R","f":0.373,"w":0.082},{"g":"2.6% (520)","s":"R","f":0.345,"w":0.08},{"g":"2.6% (520)","s":"R","f":0.319,"w":0.073},{"g":"2.6% (520)","s":"R","f":0.29,"w":0.068},{"g":"2.6% (520)","s":"R","f":0.267,"w":0.067},{"g":"2.6% (520)","s":"R","f":0.24,"w":0.08},{"g":"2.6% (520)","s":"R","f":0.216,"w":0.092},{"g":"2.6% (520)","s":"R","f":0.2,"w":0.11},{"g":"2.6% (520)","s":"R","f":0.185,"w":0.122},{"g":"2.6% (520)","s":"R","f":0.165,"w":0.1},{"g":"2.6% (520)","s":"R","f":0.142,"w":0.073},{"g":"2.6% (520)","s":"R","f":0.12,"w":0.05},{"g":"2.6% (520)","s":"R","f":0.091,"w":0.03},{"g":"2.6% (520)","s":"R","f":0.06,"w":0.018},{"g":"2.6% (520)","s":"R","f":0.028,"w":0.012},{"g":"2.6% (520)","s":"R","f":0.0,"w":0.006},
{"g":"ALL (20,118)","s":"L","f":0.977,"w":-0.11,"m":1},{"g":"ALL (20,118)","s":"R","f":0.971,"w":0.06,"m":1},
{"g":"80% (16,250)","s":"L","f":0.980,"w":-0.2,"m":1},{"g":"80% (16,250)","s":"R","f":0.970,"w":0.05,"m":1},
{"g":"38% (7,565)","s":"L","f":0.973,"w":-0.062,"m":1},{"g":"38% (7,565)","s":"R","f":0.957,"w":0.05,"m":1},
{"g":"16% (3,122)","s":"L","f":0.956,"w":-0.035,"m":1},{"g":"16% (3,122)","s":"R","f":0.939,"w":0.04,"m":1},
{"g":"6.5% (1,314)","s":"L","f":0.945,"w":-0.018,"m":1},{"g":"6.5% (1,314)","s":"R","f":0.927,"w":0.025,"m":1},
{"g":"2.6% (520)","s":"L","f":0.802,"w":-0.01,"m":1},{"g":"2.6% (520)","s":"R","f":0.826,"w":0.033,"m":1},
{"g":"ALL (20,118)","t":"0.977|0.971\n(17100|\u00a0\u00a03018)"},{"g":"80% (16,250)","t":"0.980|0.970\n(13812|\u00a0\u00a02438)"},{"g":"38% (7,565)","t":"0.973|0.957\n(6736|1189)"},{"g":"16% (3,122)","t":"0.956|0.939\n(2653|\u00a0\u00a0469)"},{"g":"6.5% (1,314)","t":"0.945|0.927\n(1116|\u00a0\u00a0197)"},{"g":"2.6% (520)","t":"0.802|0.826\n(442|\u00a0\u00a078)"}
 ]},
 "facet": {"column": {"field": "g", "type": "nominal", "sort": ["ALL (20,118)","80% (16,250)","38% (7,565)","16% (3,122)","6.5% (1,314)","2.6% (520)"], "header": {"title": null, "labelOrient": "bottom", "labelFontSize": 19, "labelPadding": 2}}},
 "spacing": 0,
 "spec": {
  "width": 182, "height": 374,
  "layer": [
   {"transform": [{"filter": "!datum.m && !isValid(datum.t)"}],
    "mark": {"type": "area", "orient": "horizontal", "interpolate": "monotone", "strokeWidth": 1, "strokeJoin": "round"},
    "encoding": {
     "y": {"field": "f", "type": "quantitative", "title": "F1 Score", "scale": {"domain": [-0.023, 1.146], "nice": false, "zero": false}, "axis": {"values": [0, 0.2, 0.4, 0.6, 0.8, 1], "format": "~g", "grid": true, "labelFontSize": 18, "titleFontSize": 14.5, "titleFontWeight": "normal", "titlePadding": 12}},
     "x": {"field": "w", "type": "quantitative", "scale": {"domain": [-1.112, 1.112], "nice": false, "zero": false}, "axis": null},
     "x2": {"datum": 0},
     "color": {"field": "s", "type": "nominal", "scale": {"domain": ["L", "R"], "range": ["#D2B48C", "#9400D3"]}, "legend": null},
     "stroke": {"field": "s", "type": "nominal", "scale": {"domain": ["L", "R"], "range": ["#D2B48C", "#9400D3"]}, "legend": null}
    }},
   {"transform": [{"filter": "datum.m == 1"}],
    "mark": {"type": "rule", "color": "white", "strokeWidth": 2, "strokeDash": [4, 3]},
    "encoding": {
     "y": {"field": "f", "type": "quantitative", "title": "F1 Score"},
     "x": {"field": "w", "type": "quantitative", "axis": null},
     "x2": {"datum": 0}
    }},
   {"transform": [{"filter": "isValid(datum.t)"}],
    "mark": {"type": "text", "fontSize": 19, "color": "#222", "baseline": "middle", "align": "center", "lineHeight": 24},
    "encoding": {
     "y": {"datum": 1.1116, "type": "quantitative", "title": "F1 Score"},
     "x": {"datum": 0, "type": "quantitative", "axis": null},
     "text": {"field": "t"}
    }}
  ]
 }
}
]
}
